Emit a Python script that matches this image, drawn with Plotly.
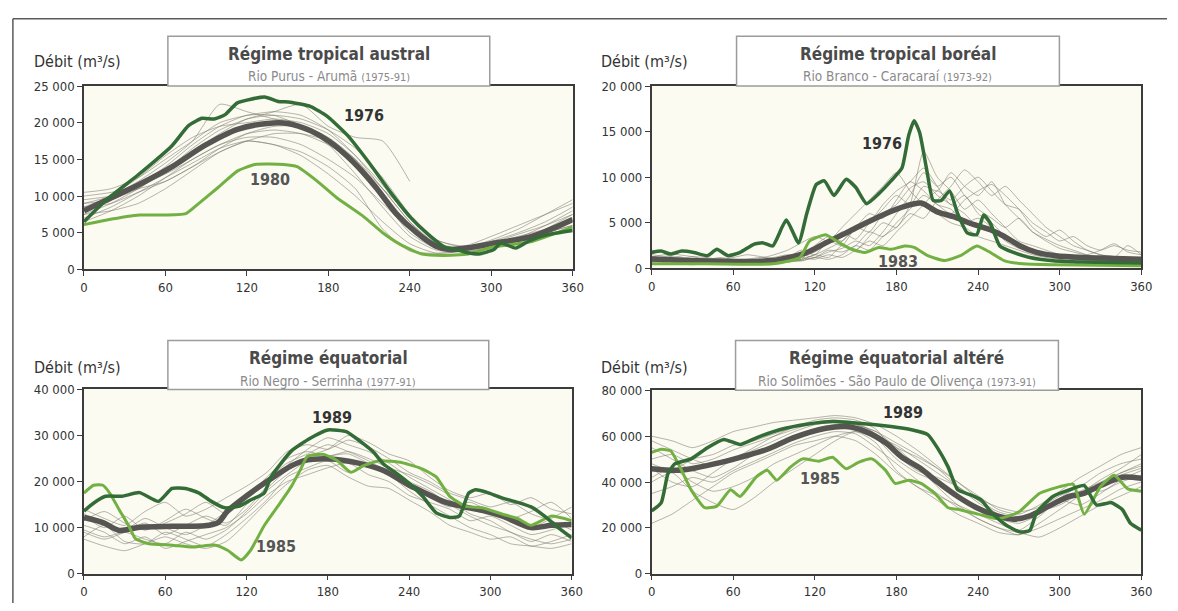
import plotly.graph_objects as go

W, H = 1178, 611

# ---------------------------------------------------------------- data
DAY_TICKS = [0, 60, 120, 180, 240, 300, 360]
DAYS_20 = list(range(0, 361, 20))
DAYS_15 = list(range(0, 361, 15))
DAYS_10 = list(range(0, 361, 10))

# Régime tropical austral - Rio Purus, Arumã
AUSTRAL_MEAN_DAYS = [0, 16, 41, 65, 89, 113, 135, 150, 167, 181, 198, 215, 230, 245, 259, 269, 285, 300, 330, 360]
AUSTRAL_MEAN = [8000, 9400, 11600, 14000, 16900, 19100, 19900, 19900, 18900, 17400, 14700, 11200, 7600, 5000,
                3200, 2700, 3000, 3500, 4500, 6800]
AUSTRAL_1976_DAYS = [0, 16, 40, 65, 77, 87, 96, 104, 113, 133, 143, 152, 167, 179, 194, 211, 225, 240, 254, 266,
                     272, 282, 291, 302, 307, 318, 328, 341, 360]
AUSTRAL_1976 = [6500, 9400, 12900, 16900, 19600, 20600, 20500, 21100, 22700, 23500, 22900, 22800, 22200, 20900,
                18300, 14300, 10700, 7200, 4700, 3000, 2800, 2300, 2100, 2700, 3600, 2900, 3900, 4700, 5300]
AUSTRAL_1980_DAYS = [0, 16, 41, 55, 75, 84, 99, 113, 126, 147, 157, 172, 186, 206, 220, 235, 249, 264, 283, 300,
                     330, 360]
AUSTRAL_1980 = [6100, 6700, 7400, 7400, 7600, 8900, 11200, 13400, 14300, 14300, 14000, 12000, 9800, 7200, 5000,
                3200, 2100, 1900, 2100, 3000, 3800, 5800]
AUSTRAL_YEARS = [
    [10500, 11000, 12500, 15000, 17500, 20000, 21000, 21500, 21000, 19000, 15500, 11000, 6500, 3500, 3000, 4000, 5500, 7500, 9500],
    [9000, 10000, 12000, 14500, 17500, 22500, 21500, 20500, 19500, 17500, 14000, 9500, 5000, 2800, 2800, 3800, 5000, 6500, 8500],
    [7000, 8500, 10500, 12500, 14500, 16500, 17500, 17000, 15500, 13000, 10000, 6500, 3500, 2200, 2500, 3500, 4000, 5000, 6000],
    [8000, 9500, 11000, 13500, 16000, 18500, 20500, 21000, 20500, 19000, 16500, 12500, 7500, 3500, 2800, 3000, 3800, 4500, 5500],
    [9500, 10000, 11000, 12000, 14000, 16000, 17500, 17000, 16000, 14000, 11000, 5500, 2500, 2200, 2600, 3200, 4200, 5200, 6500],
    [8500, 10000, 12500, 15500, 18000, 19500, 20000, 20500, 20000, 18500, 15500, 11500, 7000, 4000, 3000, 3500, 4500, 5500, 7000],
    [7500, 9000, 11000, 13500, 16500, 19000, 20500, 21500, 22500, 19500, 18000, 17500, 12000, None, None, None, None, None, None],
    [7500, 8000, 9000, 11000, 13500, 16000, 17500, 18500, 18500, 17500, 15000, 11000, 6500, 3200, 2500, 3000, 4000, 5500, 7500],
    [10000, 10500, 11500, 13000, 15000, 17000, 18500, 19000, 18500, 17000, 14500, 11000, 7500, 4000, 3200, 4500, 6000, 7500, 9000],
    [6500, 8000, 10000, 12500, 15000, 17000, 18000, 18000, 17000, 15000, 12500, 9000, 5500, 3000, 2400, 3000, 4000, 5000, 6000],
    [8500, 9000, 10500, 12000, 14000, 16500, 18500, 19500, 19500, 18000, 15000, 10500, 6000, 3300, 2700, 3300, 4300, 6000, 8000],
    [9000, 9500, 11500, 14000, 17000, 19500, 21000, 21000, 19500, 17000, 13000, 8500, 4500, 2600, 2600, 3600, 4800, 6000, 7500],
]

# Régime tropical boréal - Rio Branco, Caracaraí
BOREAL_MEAN_DAYS = [0, 29, 65, 89, 101, 114, 128, 143, 157, 172, 186, 198, 210, 222, 234, 249, 259, 271, 283, 297,
                    317, 340, 360]
BOREAL_MEAN = [1030, 860, 750, 860, 1200, 1750, 2800, 3900, 4950, 6000, 6800, 7170, 6200, 5670, 4950, 4240, 3530,
               2460, 1750, 1390, 1200, 1100, 1000]
BOREAL_1976_DAYS = [0, 7, 14, 22, 31, 41, 48, 56, 65, 75, 82, 89, 99, 108, 114, 121, 127, 134, 143, 150, 158, 167,
                    176, 184, 189, 193, 197, 202, 207, 213, 219, 225, 232, 239, 244, 249, 256, 266, 278, 295, 317, 360]
BOREAL_1976 = [1750, 1900, 1570, 1900, 1750, 1400, 2100, 1400, 1750, 2640, 2800, 2460, 5300, 2800, 6000, 9200, 9600,
               8000, 9770, 8900, 7100, 8200, 9600, 11000, 14600, 16200, 14900, 11000, 7450, 7450, 8500, 6000, 3900,
               3700, 5850, 4950, 2460, 1750, 1200, 850, 700, 600]
BOREAL_1983_DAYS = [0, 41, 89, 109, 116, 128, 138, 147, 157, 167, 176, 186, 193, 203, 215, 227, 239, 249, 259, 273,
                    297, 360]
BOREAL_1983 = [500, 500, 500, 1200, 3000, 3700, 2800, 2100, 1750, 2300, 2100, 2460, 2300, 1400, 860, 1400, 2460,
               1750, 860, 500, 400, 300]
BOREAL_YEARS = [
    [1200, 1500, 1000, 1300, 900, 1100, 800, 900, 700, 900, 1200, 2000, 1500, 3000, 2500, 4500, 5000, 7000, 8500, 9500, 11000, 9000, 7000, 8000, 6000, 5000, 3500, 2500, 2000, 1500, 1300, 1000, 1200, 900, 800, 1000, 900],
    [800, 700, 900, 600, 800, 700, 600, 800, 1000, 800, 700, 900, 1500, 1200, 2500, 2000, 3500, 5000, 4500, 7000, 12800, 10000, 8500, 6500, 7500, 6000, 4500, 3000, 2500, 2000, 1500, 1200, 1000, 900, 800, 700, 800],
    [1500, 1300, 1200, 1000, 1100, 900, 1000, 800, 900, 1200, 1500, 1300, 1800, 2800, 4000, 3200, 5000, 6500, 8000, 7000, 9000, 8500, 10500, 9000, 8000, 9500, 7000, 5500, 4000, 3200, 2500, 2000, 1500, 1200, 1000, 900, 1000],
    [600, 500, 700, 500, 600, 500, 500, 600, 500, 700, 900, 800, 1200, 1000, 1500, 2500, 2000, 3500, 4500, 6000, 5500, 7500, 9000, 10800, 9500, 8000, 9000, 7500, 6000, 4500, 3500, 2500, 2000, 1500, 1200, 2500, 1500],
    [1000, 900, 1100, 800, 900, 1200, 1000, 900, 1100, 1500, 2000, 2800, 3500, 3000, 4500, 6000, 7500, 9000, 10500, 8500, 7000, 6000, 5000, 4500, 3500, 3000, 2500, 2000, 1500, 1200, 1000, 900, 800, 900, 700, 800, 700],
    [2000, 1800, 1500, 1300, 1200, 1000, 1200, 1500, 1300, 1100, 1000, 1200, 1000, 1500, 1200, 2000, 3000, 2500, 4000, 5500, 7000, 8500, 7500, 9000, 10000, 8500, 7000, 6500, 5000, 4000, 3000, 3500, 2500, 2000, 2500, 2000, 1800],
    [700, 800, 600, 700, 900, 700, 800, 700, 600, 800, 700, 1000, 2500, 3500, 3000, 4500, 6000, 5500, 7500, 9500, 8500, 7000, 6500, 5000, 5500, 4500, 3000, 2200, 1800, 1500, 1200, 1000, 900, 800, 700, 800, 700],
    [1300, 1100, 1300, 900, 1000, 800, 900, 1000, 1200, 1000, 1100, 1500, 1200, 1800, 2200, 3000, 2500, 4000, 6000, 8000, 10500, 9000, 10000, 8000, 6500, 5500, 4500, 5500, 4000, 3000, 2200, 1800, 1500, 2000, 2700, 1800, 1500],
    [900, 1000, 800, 900, 700, 800, 900, 700, 800, 900, 1000, 900, 1200, 2000, 1800, 2500, 4000, 3500, 5000, 6500, 8000, 7000, 6000, 7500, 8500, 9200, 8000, 6500, 4500, 3500, 4200, 3000, 2000, 1500, 1300, 1100, 1000],
    [500, 600, 500, 400, 500, 600, 500, 400, 500, 600, 800, 1000, 1500, 2200, 3000, 4500, 4000, 6000, 7000, 8800, 9500, 8000, 7000, 6000, 4500, 4000, 3200, 2500, 2000, 1500, 1000, 800, 600, 500, 600, 500, 400],
]

# Régime équatorial - Rio Negro, Serrinha
EQUAT_MEAN_DAYS = [0, 14, 26, 41, 65, 89, 99, 106, 121, 138, 153, 162, 182, 201, 221, 240, 255, 265, 279, 296, 309,
                   330, 345, 360]
EQUAT_MEAN = [12200, 11100, 9400, 10100, 10300, 10400, 11100, 13600, 17100, 20600, 23400, 24500, 24900, 24100,
              22400, 19200, 17100, 15700, 14600, 13600, 12500, 10000, 10500, 10700]
EQUAT_1989_DAYS = [0, 7, 16, 28, 41, 55, 65, 75, 85, 94, 104, 114, 123, 133, 138, 153, 167, 180, 194, 204, 214, 221,
                   231, 240, 250, 260, 270, 277, 284, 289, 299, 309, 320, 330, 340, 350, 360]
EQUAT_1989 = [13600, 15300, 16800, 16800, 17600, 15700, 18500, 18500, 17500, 15700, 14300, 14600, 16000, 17500,
              21000, 26600, 29400, 31200, 30800, 28700, 26300, 23800, 21700, 19600, 16800, 13200, 12200, 12500,
              17500, 18200, 17500, 16400, 15500, 14500, 12500, 10000, 7800]
EQUAT_1985_DAYS = [0, 7, 14, 19, 26, 33, 38, 48, 65, 80, 97, 106, 116, 123, 133, 143, 153, 160, 165, 177, 187, 197,
                   206, 218, 235, 250, 260, 270, 282, 294, 309, 320, 330, 345, 360]
EQUAT_1985 = [17500, 19200, 19200, 17500, 13900, 10400, 7600, 6500, 6200, 5800, 6200, 5100, 3000, 5100, 10400,
              14600, 18900, 22700, 25500, 25900, 24500, 22000, 23400, 24500, 24100, 22700, 21000, 16800, 14600,
              14300, 12900, 12000, 10500, 12500, 11500]
EQUAT_YEARS = [
    [9000, 7500, 9000, 11000, 8500, 10500, 12500, 11000, 14000, 19000, 23500, 27000, 29500, 28000, 26500, 24000, 21000, 18500, 16000, 13000, 11500, 9000, 7500, 6500, 7500],
    [14000, 12000, 10500, 13500, 15500, 12500, 14000, 16500, 19000, 22000, 26500, 28000, 27000, 29000, 27500, 25000, 22000, 20000, 17500, 16000, 14500, 15500, 13000, 11500, 9500],
    [8000, 10500, 7000, 6500, 9000, 7500, 6000, 8500, 12000, 16000, 21000, 23000, 24500, 22000, 23500, 21500, 18000, 15000, 12500, 10000, 8500, 6500, 6000, 5500, 6500],
    [12500, 10000, 12500, 9500, 11500, 14000, 12000, 10500, 15000, 18500, 22500, 25500, 27000, 30000, 28500, 26000, 24500, 21000, 18000, 16500, 17500, 15000, 16500, 14000, 13000],
    [10500, 9000, 6500, 8000, 5500, 7000, 8500, 10000, 13000, 17000, 20000, 21500, 23000, 24000, 21500, 20000, 17000, 15500, 14000, 11500, 12500, 10500, 8500, 9500, 11000],
    [7500, 6000, 5000, 6500, 8000, 6500, 5500, 7000, 11000, 15500, 19500, 22500, 23500, 21000, 19000, 18500, 16000, 13500, 10500, 9000, 7500, 8000, 6000, 7000, 8500],
    [11500, 13500, 11000, 9500, 11000, 13000, 15500, 13000, 16500, 21000, 25000, 26500, 25500, 26500, 25000, 23000, 21500, 19500, 17000, 14000, 13000, 11500, 10000, 12000, 14500],
    [13000, 11000, 9500, 12000, 10000, 8500, 10500, 13500, 17500, 20500, 24000, 26000, 28000, 26500, 24500, 22000, 19500, 16500, 14500, 15500, 13500, 12000, 13500, 15500, 12000],
    [9500, 8000, 9000, 7500, 6500, 9000, 7500, 9500, 13500, 18000, 21500, 24500, 25500, 26000, 24000, 22500, 20000, 18000, 15000, 12500, 10500, 9000, 7000, 8500, 7000],
]

# Régime équatorial altéré - Rio Solimões, São Paulo de Olivença
ALTERE_MEAN_DAYS = [0, 17, 29, 46, 65, 85, 104, 128, 143, 157, 172, 184, 198, 210, 225, 239, 254, 266, 278, 292, 307,
                    317, 330, 346, 360]
ALTERE_MEAN = [45800, 45100, 45800, 47900, 50800, 54300, 59300, 63500, 64200, 62100, 57100, 50800, 45800, 40100,
               33700, 28800, 25200, 23800, 25200, 29500, 33700, 34900, 38500, 42100, 41600]
ALTERE_1989_DAYS = [0, 7, 12, 17, 29, 41, 53, 65, 77, 94, 114, 133, 152, 176, 191, 203, 210, 218, 225, 234, 242, 251,
                    261, 271, 278, 283, 295, 307, 318, 327, 338, 346, 352, 360]
ALTERE_1989 = [27400, 30900, 43700, 47900, 50100, 55000, 58600, 56400, 59300, 62800, 65200, 66400, 65700, 64200,
               62800, 60700, 55000, 46500, 36600, 34500, 32300, 25900, 21000, 18200, 18900, 26700, 33700, 36600,
               38500, 30000, 31000, 28000, 22000, 19000]
ALTERE_1985_DAYS = [0, 7, 14, 22, 29, 39, 48, 58, 65, 77, 85, 92, 102, 111, 123, 133, 143, 152, 162, 172, 179, 189,
                    198, 208, 218, 225, 240, 255, 270, 285, 300, 310, 318, 330, 340, 350, 360]
ALTERE_1985 = [52900, 54300, 53600, 45100, 36600, 28800, 29500, 36600, 33700, 42300, 45100, 40800, 46500, 50100,
               49100, 50800, 45800, 48600, 50100, 45100, 39400, 40800, 39400, 35200, 28800, 28100, 26000, 24000,
               27000, 35000, 38000, 39000, 26000, 38000, 43000, 37000, 36000]
ALTERE_YEARS = [
    [60000, 58000, 55000, 58000, 62000, 64000, 66000, 67000, 68000, 69000, 68000, 65000, 60000, 54000, 47000, 40000, 34000, 28000, 26000, 30000, 36000, 42000, 47000, 52000, 55000],
    [40000, 44000, 36000, 31000, 28000, 33000, 40000, 46000, 52000, 58000, 62000, 57000, 45000, 38000, 34000, 30000, 26000, 22000, 19000, 25000, 32000, 30000, 35000, 41000, 45000],
    [50000, 52000, 48000, 50000, 54000, 57000, 60000, 63000, 66000, 67000, 66000, 61000, 55000, 51000, 46000, 40000, 33000, 29000, 27000, 29000, 34000, 38000, 44000, 48000, 50000],
    [35000, 38000, 42000, 40000, 45000, 49000, 53000, 57000, 60000, 62000, 61000, 55000, 48000, 41000, 35000, 29000, 24000, 20000, 18000, 16000, 20000, 25000, 30000, 34000, 38000],
    [22000, 26000, 32000, 38000, 44000, 48000, 52000, 56000, 58000, 60000, 58000, 52000, 44000, 38000, 32000, 26000, 22000, 18000, 17000, 20000, 24000, 28000, 32000, 37000, 40000],
    [55000, 50000, 45000, 42000, 46000, 52000, 56000, 60000, 63000, 65000, 64000, 60000, 56000, 50000, 44000, 38000, 32000, 27000, 25000, 28000, 32000, 36000, 40000, 44000, 48000],
    [46000, 40000, 38000, 44000, 50000, 54000, 58000, 62000, 65000, 66000, 65000, 62000, 55000, 47000, 38000, 30000, 24000, 20000, 17000, 22000, 28000, 34000, 38000, 43000, 46000],
    [48000, 45000, 50000, 52000, 56000, 58000, 61000, 64000, 67000, 68000, 67000, 63000, 52000, 45000, 42000, 38000, 32000, 26000, 24000, 27000, 30000, 35000, 41000, 46000, 52000],
    [42000, 46000, 40000, 36000, 38000, 42000, 48000, 52000, 56000, 60000, 62000, 59000, 50000, 44000, 40000, 34000, 28000, 24000, 22000, 26000, 33000, 38000, 36000, 40000, 43000],
    [58000, 54000, 50000, 47000, 50000, 55000, 60000, 64000, 66000, 66000, 65000, 62000, 57000, 52000, 46000, 38000, 31000, 26000, 24000, 28000, 31000, 35000, 39000, 44000, 47000],
]

PANELS = [
    dict(title="Régime tropical austral", station="Rio Purus - Arumã", period="(1975-91)",
         ymax=25000, ystep=5000, years_days=DAYS_20, years=AUSTRAL_YEARS,
         mean=(AUSTRAL_MEAN_DAYS, AUSTRAL_MEAN),
         dark=("1976", AUSTRAL_1976_DAYS, AUSTRAL_1976, 206, 21000),
         light=("1980", AUSTRAL_1980_DAYS, AUSTRAL_1980, 137, 12200)),
    dict(title="Régime tropical boréal", station="Rio Branco - Caracaraí", period="(1973-92)",
         ymax=20000, ystep=5000, years_days=DAYS_10, years=BOREAL_YEARS,
         mean=(BOREAL_MEAN_DAYS, BOREAL_MEAN),
         dark=("1976", BOREAL_1976_DAYS, BOREAL_1976, 169, 13700),
         light=("1983", BOREAL_1983_DAYS, BOREAL_1983, 181, 750)),
    dict(title="Régime équatorial", station="Rio Negro - Serrinha", period="(1977-91)",
         ymax=40000, ystep=10000, years_days=DAYS_15, years=EQUAT_YEARS,
         mean=(EQUAT_MEAN_DAYS, EQUAT_MEAN),
         dark=("1989", EQUAT_1989_DAYS, EQUAT_1989, 183, 34000),
         light=("1985", EQUAT_1985_DAYS, EQUAT_1985, 142, 5900)),
    dict(title="Régime équatorial altéré", station="Rio Solimões - São Paulo de Olivença", period="(1973-91)",
         ymax=80000, ystep=20000, years_days=DAYS_15, years=ALTERE_YEARS,
         mean=(ALTERE_MEAN_DAYS, ALTERE_MEAN),
         dark=("1989", ALTERE_1989_DAYS, ALTERE_1989, 185, 70200),
         light=("1985", ALTERE_1985_DAYS, ALTERE_1985, 124, 41700)),
]

# ---------------------------------------------------------------- layout geometry (pixels)
PLOT_BOXES = [(81, 576, 81, 269), (656, 1152, 81, 268), (81, 575, 392, 581), (656, 1152, 393, 581)]
TITLE_BOXES = [(166, 492, 30, 81), (742, 1069, 30, 81), (166, 491, 342, 392), (741, 1068, 342, 393)]
UNIT_LABEL_POS = [(28, 56), (603, 56), (28, 370), (603, 370)]

FONT = "Liberation Sans Narrow, Arial Narrow, DejaVu Sans Condensed, sans-serif"
DARK_GREEN = "#346c37"
LIGHT_GREEN = "#72b043"
MEAN_GREY = "#575552"
YEAR_GREY = "rgba(125,120,110,0.55)"
AXIS_COL = "#3c3c3c"


def px_x(p):
    return p / W


def px_y(p):
    return 1 - p / H


fig = go.Figure()
layout = dict(
    width=W, height=H, margin=dict(l=0, r=0, t=0, b=0),
    paper_bgcolor="white", plot_bgcolor="#fbfbf1",
    showlegend=False, separators=". ",
    font=dict(family=FONT, color="#333333", size=13),
)
annotations = []
shapes = []

for i, p in enumerate(PANELS):
    n = "" if i == 0 else str(i + 1)
    xa, ya = "x" + n, "y" + n
    x0, x1, y0, y1 = PLOT_BOXES[i]

    layout["xaxis" + n] = dict(
        domain=[px_x(x0), px_x(x1)], range=[0, 360], anchor=ya,
        tickvals=DAY_TICKS, ticks="outside", ticklen=5, tickwidth=1, tickcolor=AXIS_COL,
        showline=True, mirror=True, linecolor=AXIS_COL, linewidth=1.5,
        showgrid=False, zeroline=False, tickfont=dict(size=13, color="#333333"),
    )
    layout["yaxis" + n] = dict(
        domain=[px_y(y1), px_y(y0)], range=[0, p["ymax"]], anchor=xa,
        tickvals=list(range(0, p["ymax"] + 1, p["ystep"])), tickformat=",d",
        ticks="outside", ticklen=5, tickwidth=1, tickcolor=AXIS_COL,
        showline=True, mirror=True, linecolor=AXIS_COL, linewidth=1.5,
        showgrid=False, zeroline=False, tickfont=dict(size=13, color="#333333"),
    )

    # individual years
    for series in p["years"]:
        fig.add_trace(go.Scatter(
            x=p["years_days"], y=series, xaxis=xa, yaxis=ya, mode="lines",
            line=dict(color=YEAR_GREY, width=1, shape="spline", smoothing=0.6),
            connectgaps=False, hoverinfo="skip"))

    # inter-annual mean
    mdays, mvals = p["mean"]
    fig.add_trace(go.Scatter(
        x=mdays, y=mvals, xaxis=xa, yaxis=ya, mode="lines",
        line=dict(color=MEAN_GREY, width=5.5, shape="spline", smoothing=0.8)))

    # highlighted years
    for key, col, width in (("light", LIGHT_GREEN, 3), ("dark", DARK_GREEN, 3.5)):
        label, d, v, lx, ly = p[key]
        fig.add_trace(go.Scatter(
            x=d, y=v, xaxis=xa, yaxis=ya, mode="lines", name=label,
            line=dict(color=col, width=width, shape="spline", smoothing=0.5)))
        annotations.append(dict(
            x=lx, y=ly, xref=xa, yref=ya, text="<b>" + label + "</b>", showarrow=False,
            font=dict(size=16, color="#333333" if key == "dark" else "#555555")))

    # title box
    bx0, bx1, by0, by1 = TITLE_BOXES[i]
    shapes.append(dict(type="rect", xref="paper", yref="paper",
                       x0=px_x(bx0), x1=px_x(bx1), y0=px_y(by1), y1=px_y(by0),
                       line=dict(color="#9c9c9c", width=1.5), fillcolor="white", layer="above"))
    cx = (bx0 + bx1) / 2
    annotations.append(dict(
        x=px_x(cx), y=px_y(by0 + 18), xref="paper", yref="paper", showarrow=False,
        text="<b>" + p["title"] + "</b>", font=dict(size=17, color="#4a4a4a"),
        xanchor="center", yanchor="middle"))
    annotations.append(dict(
        x=px_x(cx), y=px_y(by0 + 41), xref="paper", yref="paper", showarrow=False,
        text=p["station"] + " <span style='font-size:11px'>" + p["period"] + "</span>",
        font=dict(size=13.5, color="#8a8a8a"), xanchor="center", yanchor="middle"))

    # unit label
    ux, uy = UNIT_LABEL_POS[i]
    annotations.append(dict(
        x=px_x(ux), y=px_y(uy), xref="paper", yref="paper", showarrow=False,
        text="Débit (m³/s)", font=dict(size=16, color="#333333"),
        xanchor="left", yanchor="middle"))

# page frame
shapes.append(dict(type="line", xref="paper", yref="paper", x0=px_x(9), x1=1, y0=px_y(12), y1=px_y(12),
                   line=dict(color="#5a5a5a", width=1.5)))
shapes.append(dict(type="line", xref="paper", yref="paper", x0=px_x(9), x1=px_x(9), y0=px_y(12), y1=0,
                   line=dict(color="#5a5a5a", width=1.5)))

layout["annotations"] = annotations
layout["shapes"] = shapes
fig.update_layout(**layout)

fig.write_html("out.html")
